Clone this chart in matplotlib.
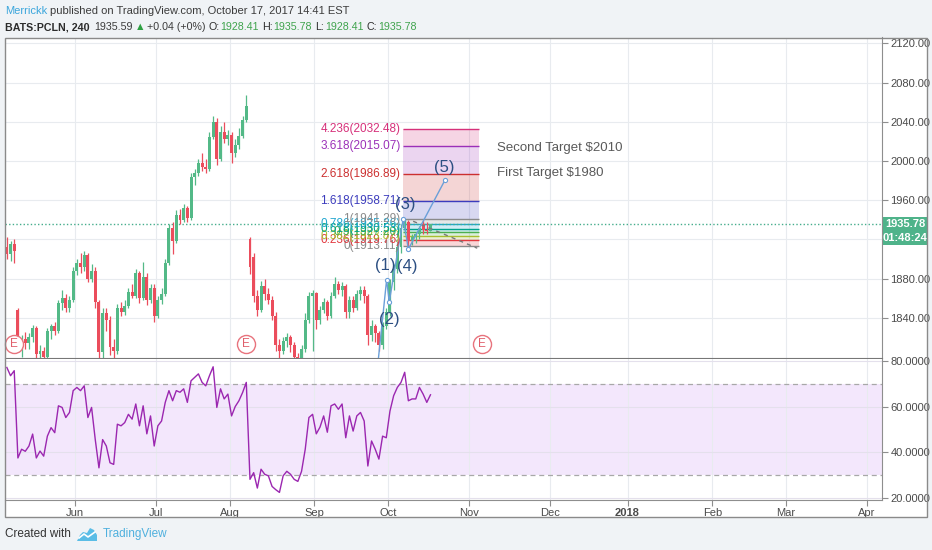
import numpy as np
import pandas as pd
import matplotlib
matplotlib.use('Agg')
import matplotlib.pyplot as plt
from matplotlib.patches import Rectangle, Polygon
from matplotlib.transforms import blended_transform_factory

plt.rcParams['font.family'] = ['Liberation Sans', 'DejaVu Sans']

# ---------------- data ----------------
first_day = '2017-05-04'
last_day = '2017-10-17'
future_end = '2018-04-13'
market_holidays = ['2017-05-29', '2017-07-04', '2017-09-04']

opens = [1912, 1905, 1915, 1848, 1812, 1818, 1814, 1820, 1830, 1803, 1806, 1800, 1826, 1832, 1826, 1855, 1860, 1850, 1858,
         1888, 1896, 1892, 1904, 1880, 1888, 1856, 1805, 1845, 1838, 1810, 1806, 1850, 1846, 1852, 1866, 1862, 1886, 1860, 1882,
         1858, 1870, 1842, 1858, 1864, 1896, 1932, 1918, 1945, 1940, 1952, 1942, 1984, 1988, 1998, 1994, 1992, 2025, 2040, 2002,
         2030, 2022, 2027, 2008, 2016, 2026, 2042, 1920, 1902, 1862, 1848, 1872, 1864, 1858, 1842, 1812, 1806, 1816, 1820, 1812,
         1800, 1796, 1808, 1838, 1862, 1865, 1838, 1848, 1856, 1842, 1862, 1874, 1868, 1872, 1846, 1858, 1850, 1864, 1868, 1862,
         1822, 1832, 1824, 1812, 1832, 1846, 1876, 1890, 1912, 1932, 1938, 1918, 1922, 1925, 1936, 1930, 1928.41]
highs = [1922, 1918, 1920, 1850, 1822, 1825, 1824, 1833, 1832, 1812, 1810, 1830, 1834, 1836, 1858, 1868, 1864, 1862, 1892,
         1900, 1906, 1908, 1906, 1895, 1892, 1858, 1850, 1850, 1842, 1818, 1854, 1856, 1858, 1870, 1874, 1890, 1888, 1897, 1886,
         1874, 1874, 1862, 1870, 1900, 1936, 1938, 1950, 1951, 1956, 1954, 1988, 1992, 2002, 2008, 2002, 2030, 2046, 2044, 2036,
         2040, 2032, 2030, 2022, 2034, 2046, 2067, 1922, 1906, 1868, 1878, 1880, 1870, 1862, 1846, 1818, 1820, 1824, 1822, 1815,
         1804, 1812, 1845, 1866, 1868, 1866, 1852, 1860, 1858, 1866, 1882, 1878, 1876, 1874, 1862, 1862, 1868, 1872, 1872, 1864,
         1838, 1834, 1826, 1836, 1850, 1880, 1895, 1916, 1936, 1941.29, 1940, 1926, 1928, 1934, 1940, 1938, 1935.78]
lows = [1900, 1898, 1896, 1805, 1800, 1808, 1808, 1815, 1797, 1795, 1796, 1798, 1818, 1822, 1824, 1848, 1846, 1846, 1856,
        1884, 1886, 1888, 1876, 1876, 1850, 1790, 1798, 1826, 1802, 1795, 1803, 1842, 1843, 1850, 1860, 1860, 1855, 1858, 1853,
        1855, 1836, 1840, 1854, 1862, 1894, 1905, 1916, 1936, 1938, 1938, 1940, 1976, 1985, 1990, 1988, 1990, 2022, 1996, 2000,
        2018, 2016, 1998, 2004, 2012, 2024, 2040, 1885, 1856, 1842, 1846, 1858, 1854, 1838, 1806, 1798, 1803, 1810, 1805, 1795,
        1788, 1792, 1805, 1835, 1806, 1828, 1834, 1845, 1838, 1840, 1860, 1864, 1862, 1840, 1840, 1846, 1848, 1858, 1855, 1812,
        1816, 1815, 1806, 1808, 1828, 1842, 1868, 1886, 1906, 1925, 1913.11, 1914, 1916, 1920, 1926, 1925, 1928.41]
closes = [1905, 1915, 1908, 1812, 1818, 1814, 1820, 1830, 1803, 1806, 1800, 1826, 1832, 1826, 1855, 1860, 1850, 1858, 1888,
          1896, 1892, 1904, 1880, 1888, 1856, 1805, 1845, 1838, 1810, 1806, 1850, 1846, 1852, 1866, 1862, 1886, 1860, 1882, 1858,
          1870, 1842, 1858, 1864, 1896, 1932, 1918, 1945, 1940, 1952, 1942, 1984, 1988, 1998, 1994, 1992, 2025, 2040, 2002, 2030,
          2022, 2027, 2008, 2016, 2026, 2042, 2056, 1892, 1862, 1848, 1872, 1864, 1858, 1842, 1812, 1806, 1816, 1820, 1812, 1800,
          1796, 1808, 1838, 1862, 1865, 1838, 1848, 1856, 1842, 1862, 1874, 1868, 1872, 1846, 1858, 1850, 1864, 1868, 1862, 1822,
          1832, 1824, 1812, 1832, 1846, 1876, 1890, 1912, 1932, 1938, 1918, 1922, 1925, 1932, 1930, 1928.41, 1935.78]
rsi_values = [77, 73.4, 75.6, 37.6, 41.4, 40.5, 42.8, 48, 37.6, 40.6, 38.4, 47.1, 50.8, 48.6, 60.3, 59.6, 55.2, 57.4, 66.9,
              68.3, 66.9, 69, 55.2, 59.6, 45.6, 33.3, 45.6, 42.8, 35.5, 34.8, 52.3, 51.6, 53, 56.6, 54.5, 61.1, 51.6, 60.3, 48.1,
              55.9, 42.8, 51.6, 53.7, 61.8, 66.9, 62.5, 66.9, 66.2, 67.7, 61.8, 71.2, 72.7, 74.2, 70.5, 69, 73.4, 77.3, 59.6, 67.7,
              63.3, 65.4, 55.9, 60, 62.5, 66.1, 70.5, 28.3, 31.2, 24.5, 32.7, 30.5, 29.8, 25.2, 23.8, 22.6, 29.8, 31.8, 30.5, 28.3,
              27.4, 31.8, 41.4, 55.2, 56.6, 48.1, 51, 55.9, 48.8, 60.3, 61.1, 58.8, 61.1, 46.4, 55.9, 49.3, 55.9, 57.4, 53.7, 34.1,
              45, 41.4, 37.1, 47.1, 46.4, 58, 64.7, 68.3, 70.5, 74.9, 62.5, 63.3, 63.3, 68.3, 65.4, 61.8, 65.1]

price_ticks = [1840, 1880, 1920, 1960, 2000, 2040, 2080, 2120]
hidden_price_labels = [1920]          # covered by the last-price tags on the axis
rsi_ticks = [20, 40, 60, 80]
rsi_bands = [30, 70]
month_labels = ['Jun', 'Jul', 'Aug', 'Sep', 'Oct', 'Nov', 'Dec', '2018', 'Feb', 'Mar', 'Apr']

earnings_dates = ['2017-05-08', '2017-08-07', '2017-11-06']

fib_low, fib_high = 1913.11, 1941.29
fib_ratios = [0, 0.236, 0.382, 0.5, 0.618, 0.786, 1, 1.618, 2.618, 3.618, 4.236]
fib_colors = ['#8a8a8a', '#e2393f', '#a8bf2e', '#4caf50', '#00a38c', '#22a6cf', '#8a8a8a',
              '#3c3cbd', '#cc3030', '#9b30b8', '#d6307a']
fib_dates = ['2017-10-06', '2017-11-03']

wave_dates = ['2017-09-27', '2017-09-29', '2017-10-02', '2017-10-06', '2017-10-09', '2017-10-23']
wave_prices = [1796, 1879, 1856, 1941.29, 1910, 1981]
wave_labels = ['', '(1)', '(2)', '(3)', '(4)', '(5)']

forecast_dates = ['2017-10-10', '2017-11-03']
forecast_prices = [1938.5, 1911]

targets = ['Second Target $2010', 'First Target $1980']
target_levels = [2013, 1988]
target_date = '2017-11-13'

last_price = closes[-1]

# ---------------- styling ----------------
W, H = 932, 550
BG = '#f0f3f6'
TXT = '#4a4a4a'
UP, DN = '#53b987', '#eb4d5c'
GRID = '#e8ebef'
AXC = '#8e8e8e'
GREEN_TXT = '#3fa34d'

fig = plt.figure(figsize=(W / 100, H / 100), dpi=100, facecolor=BG)
def fx(px): return px / W
def fy(py): return 1 - py / H

fig.add_artist(Rectangle((fx(5), fy(517)), fx(927) - fx(5), fy(37.5) - fy(517), transform=fig.transFigure,
                         facecolor='white', edgecolor='none', zorder=0))

ax = fig.add_axes([fx(5), fy(358), fx(882) - fx(5), fy(37.5) - fy(358)])
ax2 = fig.add_axes([fx(5), fy(500), fx(882) - fx(5), fy(358.5) - fy(500)], sharex=ax)

# calendar: trading days in the past, weekdays in the future
past = pd.bdate_range(first_day, last_day)
past = past[~past.isin(pd.to_datetime(market_holidays))]
future = pd.bdate_range(pd.Timestamp(last_day) + pd.Timedelta(days=1), future_end)
cal = past.append(future)
def pos(d):
    return float(cal.get_loc(pd.Timestamp(d)))

n = min(len(opens), len(highs), len(lows), len(closes))
xs = np.arange(n) + 0.5
o = np.array(opens[:n], float); h = np.array(highs[:n], float)
l = np.array(lows[:n], float); c = np.array(closes[:n], float)

months = pd.period_range('2017-06', '2018-04', freq='M')
tick_pos = [float(np.searchsorted(cal.values, m.start_time.to_datetime64())) for m in months]

jun = tick_pos[0]
pxb = (867 - 75) / (tick_pos[-1] - tick_pos[0])
ax.set_xlim(jun - (75 - 5) / pxb, jun + (882 - 75) / pxb)
ax.set_ylim(1798.9, 2126.1)
ax2.set_ylim(19.3, 80.9)

for a in (ax, ax2):
    a.set_facecolor('white')
    for s in ('top', 'left'):
        a.spines[s].set_visible(False)
    a.spines['right'].set_color(AXC)
    a.spines['bottom'].set_color(AXC)
    a.yaxis.tick_right()
    for tp in tick_pos:
        a.axvline(tp, color=GRID, lw=0.8, zorder=0.5)

for pt in price_ticks:
    ax.axhline(pt, color=GRID, lw=0.8, zorder=0.5)
ax2.axhspan(rsi_bands[0], rsi_bands[1], facecolor='#f3e7fc', edgecolor='none', zorder=0.2)
for rt in rsi_ticks:
    ax2.axhline(rt, color='#e4e0ec', lw=0.8, zorder=0.5)
for b in rsi_bands:
    ax2.axhline(b, color='#a8a8a8', lw=0.9, ls=(0, (4, 3)), zorder=1)

ax.set_yticks(price_ticks)
ax.set_yticklabels(['' if v in hidden_price_labels else f'{v:.2f}' for v in price_ticks])
ax.tick_params(axis='y', direction='out', length=4, color=AXC, labelsize=8, labelcolor=TXT, pad=2)
ax.tick_params(axis='x', length=0, labelbottom=False)
ax2.set_yticks(rsi_ticks)
ax2.set_yticklabels([f'{v:.4f}' for v in rsi_ticks])
ax2.tick_params(axis='y', direction='out', length=4, color=AXC, labelsize=8, labelcolor=TXT, pad=2)
ax2.set_xticks(tick_pos)
ax2.set_xticklabels(month_labels)
ax2.tick_params(axis='x', direction='out', length=4, color=AXC, labelsize=8, labelcolor=TXT, pad=2)
for lab in ax2.get_xticklabels():
    if lab.get_text() == '2018':
        lab.set_fontweight('bold')
ax.spines['bottom'].set_color('#777777')

# candles
up = c >= o
cols = np.where(up, UP, DN)
ax.vlines(xs, l, h, colors=cols, lw=0.9, zorder=3)
ax.bar(xs, np.maximum(np.abs(c - o), 0.8), bottom=np.minimum(o, c), width=0.8, color=cols, lw=0, zorder=3)

ax.axhline(last_price, color='#45ad8c', lw=1, ls=(0, (1, 1.6)), zorder=2)

# RSI
ax2.plot(xs[:len(rsi_values)], rsi_values[:n], color='#9b27b0', lw=1.0, zorder=3)

# Fibonacci
fx0 = pos(fib_dates[0]) + 0.1
fx1 = pos(fib_dates[1]) + 0.8
levels = [fib_low + r * (fib_high - fib_low) for r in fib_ratios]
for i in range(1, len(levels)):
    ax.fill_between([fx0, fx1], levels[i - 1], levels[i], color=fib_colors[i], alpha=0.2, lw=0, zorder=1)
for r, lv, col in zip(fib_ratios, levels, fib_colors):
    ax.hlines(lv, fx0, fx1, colors=col, lw=1, zorder=1.5)
    ax.annotate(f'{r:g}({lv:.2f})', (fx0, lv), xytext=(-2, 0), textcoords='offset points',
                ha='right', va='center', fontsize=8.5, color=col, zorder=6)

fcx = [pos(forecast_dates[0]) + 0.8, pos(forecast_dates[1]) + 0.2]
ax.plot(fcx, forecast_prices, color='#7a7a7a', lw=1, ls=(0, (3, 3)), zorder=4)

# Elliott waves
wfrac = [0.3, 0.6, 0.3, 0.1, 0.5, 0.5]
wx = [pos(d) + f for d, f in zip(wave_dates, wfrac)]
ax.plot(wx, wave_prices, color='#6a9fd8', lw=1, zorder=4)
ax.plot(wx[1:], wave_prices[1:], 'o', ms=3, mfc='white', mec='#6a9fd8', mew=0.8, zorder=4)
offs = {'(1)': (-1, 10), '(2)': (0, -12.5), '(3)': (1.5, 10), '(4)': (-0.5, -12.5), '(5)': (-0.5, 9)}
for px_, py_, lab in zip(wx, wave_prices, wave_labels):
    if lab:
        ax.annotate(lab, (px_, py_), xytext=offs[lab], textcoords='offset points', ha='center', va='center',
                    fontsize=12, color='#2c4f82', zorder=6)

for t, lv in zip(targets, target_levels):
    ax.text(pos(target_date) - 0.5, lv, t, ha='left', va='center', fontsize=9.5, color='#5a5a5a', zorder=6)

btr = blended_transform_factory(ax.transData, ax.transAxes)
for d in earnings_dates:
    ex = pos(d) + 0.5
    ax.plot([ex], [0.043], 'o', ms=13, mfc='white', mec='#e8737d', mew=1.0, transform=btr, zorder=7, clip_on=False)
    ax.text(ex, 0.043, 'E', transform=btr, ha='center', va='center', fontsize=8.5, color='#e05f6b', zorder=8)

# price label boxes
fig.canvas.draw()
ypix = ax.transData.transform((0, last_price))[1]
ytop = H - ypix
fig.add_artist(Rectangle((fx(882.5), fy(ytop + 7)), fx(927) - fx(882.5), 14 / H, transform=fig.transFigure,
                         facecolor='#4fb38a', edgecolor='none', zorder=20))
fig.text(fx(905), fy(ytop), f'{last_price:.2f}', ha='center', va='center', fontsize=8, color='white',
         fontweight='bold', zorder=21)
fig.add_artist(Rectangle((fx(882.5), fy(ytop + 21.5)), fx(927) - fx(882.5), 14 / H, transform=fig.transFigure,
                         facecolor='#4fb38a', edgecolor='none', zorder=20))
fig.text(fx(905), fy(ytop + 14.5), '01:48:24', ha='center', va='center', fontsize=8, color='white',
         fontweight='bold', zorder=21)

fig.add_artist(Rectangle((fx(5), fy(517)), fx(927) - fx(5), fy(37.5) - fy(517), transform=fig.transFigure,
                         facecolor='none', edgecolor='#8a8a8a', lw=1, zorder=30))

# header
renderer = fig.canvas.get_renderer()
def seq(x0, ypx, parts, size):
    xcur = x0
    for text, color, weight, gap in parts:
        t = fig.text(fx(xcur), fy(ypx), text, ha='left', va='center', fontsize=size, color=color,
                     fontweight=weight)
        bb = t.get_window_extent(renderer)
        xcur = bb.x1 + gap

seq(5, 10.5, [('Merrickk', '#3ba6dc', 'normal', 3),
              ('published on TradingView.com, October 17, 2017 14:41 EST', '#3c3c3c', 'normal', 0)], 8)
seq(5, 27, [('BATS:PCLN, 240', '#2c2c2c', 'bold', 5),
            ('1935.59', '#3c3c3c', 'normal', 2),
            ('\u25b2', '#2ea043', 'normal', 1),
            ('+0.04 (+0%)', '#3c3c3c', 'normal', 3),
            ('O:', '#2c2c2c', 'normal', 1), ('1928.41', GREEN_TXT, 'normal', 3),
            ('H:', '#2c2c2c', 'normal', 1), ('1935.78', GREEN_TXT, 'normal', 3),
            ('L:', '#2c2c2c', 'normal', 1), ('1928.41', GREEN_TXT, 'normal', 3),
            ('C:', '#2c2c2c', 'normal', 1), ('1935.78', GREEN_TXT, 'normal', 0)], 7.7)

# footer
fig.text(fx(5), fy(534), 'Created with', ha='left', va='center', fontsize=8.5, color='#333333')
logo = [(77, 541), (80, 535), (83, 532), (87, 533), (90, 528), (94, 530), (97, 535), (97, 541)]
fig.add_artist(Polygon([(fx(a), fy(b)) for a, b in logo], closed=True, transform=fig.transFigure,
                       facecolor='#5bbde6', edgecolor='none'))
fig.add_artist(plt.Line2D([fx(79), fx(84), fx(88), fx(95)], [fy(538), fy(534), fy(537), fy(532)],
                          transform=fig.transFigure, color='white', lw=1.2))
fig.text(fx(103), fy(534), 'TradingView', ha='left', va='center', fontsize=8.5, color='#4fb0de')

fig.savefig('out.png', dpi=100, facecolor=BG)
